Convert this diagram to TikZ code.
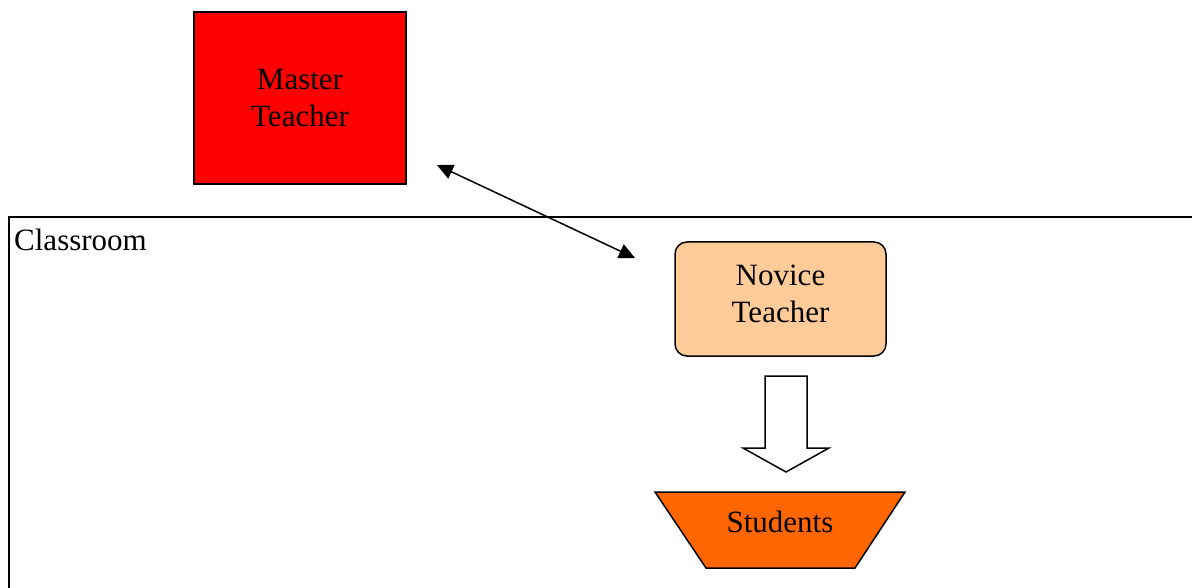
\documentclass[tikz,border=0pt]{standalone}
\usepackage{fontspec}
\setmainfont{Liberation Serif}
\usetikzlibrary{arrows.meta}
\definecolor{masterred}{HTML}{FF0000}
\definecolor{novicepeach}{HTML}{FFCC99}
\definecolor{studorange}{HTML}{FF6600}
\tikzset{
  lbl/.style={font=\fontsize{31}{37}\selectfont, align=center, text=black},
  boxline/.style={draw=black, line width=1.5pt},
}
\begin{document}
\begin{tikzpicture}[x=1pt,y=-1pt]
\useasboundingbox (0,0) rectangle (1192,588);
% classroom frame
\draw[line width=2pt] (1195,217) -- (9,217) -- (9,592);
\node[lbl, anchor=west, inner sep=0pt] (classroom) at (14,240) {Classroom};
% master teacher
\node[boxline, fill=masterred, minimum width=212pt, minimum height=172pt, inner sep=0pt, lbl] (master) at (300,98) {Master\\Teacher};
% novice teacher
\node[boxline, fill=novicepeach, rounded corners=12pt, minimum width=211pt, minimum height=114pt, inner sep=0pt] (novice) at (780.5,299) {};
\node[lbl, inner sep=0pt] (novicetext) at (780.5,294) {Novice\\Teacher};
% students trapezoid
\draw[boxline, fill=studorange] (655,492) -- (905,492) -- (855,568) -- (706,568) -- cycle;
\node[lbl, inner sep=0pt] (students) at (780,522) {Students};
% block arrow
\draw[black, line width=1.5pt, fill=white, line join=miter] (765,376) -- (807,376) -- (807,448) -- (829,448) -- (786,472) -- (743,448) -- (765,448) -- cycle;
% double arrow
\coordinate (a1) at (437,165);
\coordinate (a2) at (635,258);
\draw[line width=1.5pt, {Triangle[length=16pt,width=15pt]}-{Triangle[length=16pt,width=15pt]}] (a1) -- (a2);
\end{tikzpicture}
\end{document}
